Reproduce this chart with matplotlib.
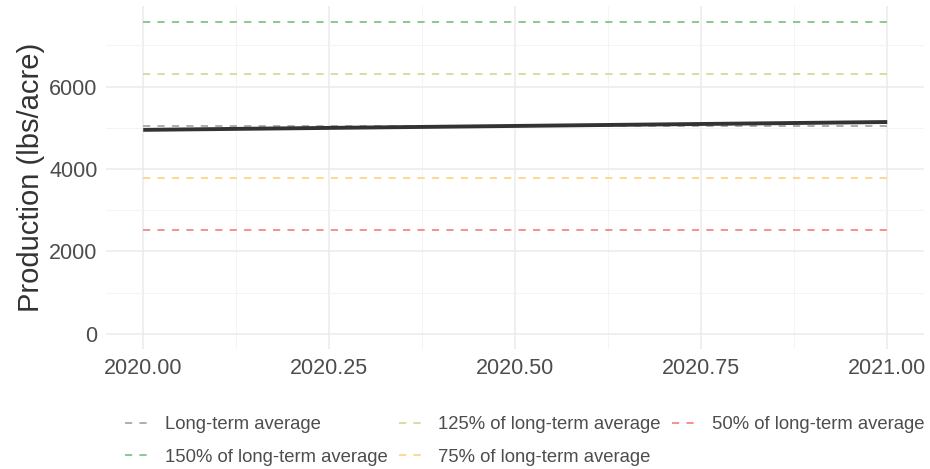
import numpy as np
import matplotlib.pyplot as plt
from matplotlib.ticker import MultipleLocator

plt.rcParams['font.family'] = ['Liberation Sans', 'DejaVu Sans']

years = [2020.0, 2021.0]
production = [4950, 5140]
long_term_avg = 5050

ref_labels = ["Long-term average", "150% of long-term average",
              "125% of long-term average", "75% of long-term average",
              "50% of long-term average"]
ref_factors = [1.0, 1.5, 1.25, 0.75, 0.5]
ref_colors = ["#a8a8a8", "#86c286", "#c9e09a", "#fcd68a", "#f78787"]

fig, ax = plt.subplots(figsize=(9.3, 4.69), dpi=100)
fig.subplots_adjust(left=0.114, right=0.994, top=0.987, bottom=0.255)

handles = []
for lab, f, c in zip(ref_labels, ref_factors, ref_colors):
    h, = ax.plot(years, [long_term_avg * f] * len(years), color=c,
                 linestyle=(0, (4, 4)), linewidth=1.3, label=lab)
    handles.append(h)

ax.plot(years, production, color="#333333", linewidth=2.8, solid_capstyle="butt")

ymax = long_term_avg * 1.5
ax.set_xlim(2020 - 0.05, 2021 + 0.05)
ax.set_ylim(-0.05 * ymax, ymax * 1.05)
ax.xaxis.set_major_locator(MultipleLocator(0.25))
ax.xaxis.set_minor_locator(MultipleLocator(0.125))
ax.yaxis.set_major_locator(MultipleLocator(2000))
ax.yaxis.set_minor_locator(MultipleLocator(1000))
ax.xaxis.set_major_formatter(lambda v, p: f"{v:.2f}")

ax.grid(which="major", color="#ebebeb", linewidth=1.1)
ax.grid(which="minor", color="#f3f3f3", linewidth=0.6)
ax.set_axisbelow(True)
for s in ax.spines.values():
    s.set_visible(False)
ax.tick_params(which="both", length=0, labelsize=15.5, colors="#4d4d4d", pad=6)
ax.set_ylabel("Production (lbs/acre)", fontsize=21, color="#333333", labelpad=3)

leg = fig.legend(handles=handles, loc="center", ncol=3, frameon=False,
                 bbox_to_anchor=(0.564, 0.06), fontsize=13.3, handlelength=1.25,
                 handletextpad=0.9, columnspacing=0.6, labelspacing=0.83)
for t in leg.get_texts():
    t.set_color("#4d4d4d")

plt.savefig("out.png", dpi=100)
